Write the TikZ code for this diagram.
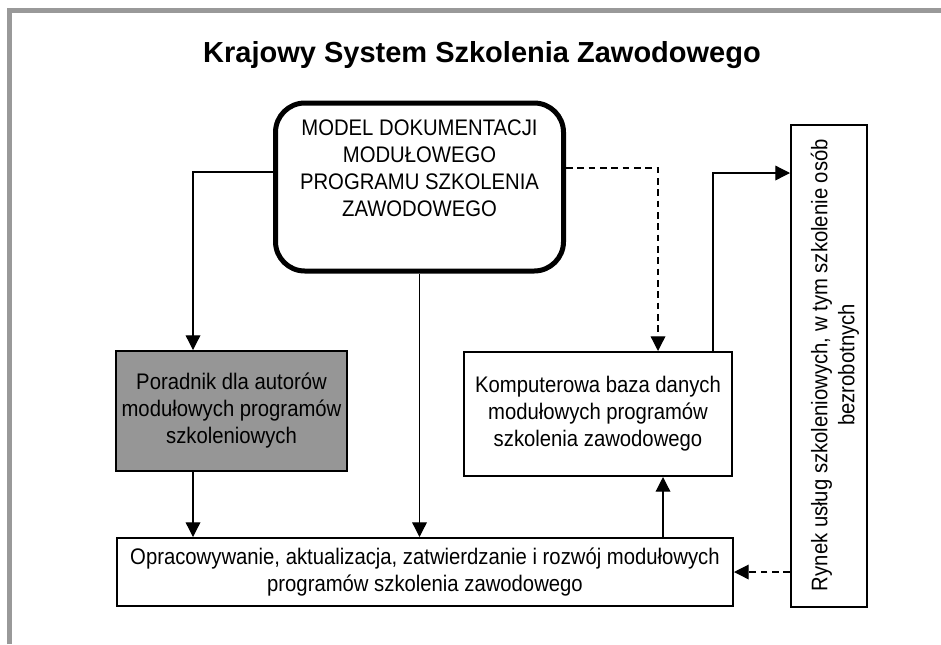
\documentclass[tikz,border=0pt]{standalone}
\usepackage{fontspec}
\setmainfont{Liberation Sans}
\newfontfamily\narrowsf{Liberation Sans}[FakeStretch=0.9]
\usetikzlibrary{calc,positioning,arrows.meta}
\definecolor{frameg}{RGB}{153,153,153}
\definecolor{fillg}{RGB}{150,150,150}
\tikzset{
  box/.style={rectangle,draw=black,line width=1.5pt,fill=white,align=center,inner sep=0pt,font={\narrowsf\fontsize{16.9}{20.25}\selectfont}},
  greybox/.style={box,fill=fillg},
  modelbox/.style={rectangle,rounded corners=22pt,draw=black,line width=3.75pt,fill=white,inner sep=0pt},
  txt/.style={align=center,inner sep=0pt,font={\narrowsf\fontsize{16.9}{20.25}\selectfont}},
  head/.style={font={\bfseries\fontsize{21.75}{26}\selectfont}},
  conn/.style={-{Triangle[length=11pt,width=11pt]},line width=0.95pt,black},
  dconn/.style={conn,dash pattern=on 5pt off 3.5pt},
}

\begin{document}
\begin{tikzpicture}[x=0.75pt,y=-0.75pt]
  \useasboundingbox (0,0) rectangle (941,644);
  \draw[frameg,line width=3.75pt] (9.5,644) -- (9.5,10.5) -- (941,10.5);
  \node[head](title) at (482,55){Krajowy System Szkolenia Zawodowego};
  % boxes
  \node[modelbox,minimum width=216pt,minimum height=126pt](model) at (419.5,187){};
  \node[txt](modeltxt) at (419.5,168){MODEL DOKUMENTACJI\\MODUŁOWEGO\\PROGRAMU SZKOLENIA\\ZAWODOWEGO};
  \node[greybox,minimum width=173.25pt,minimum height=90pt](poradnik) at (231.5,411){Poradnik dla autorów\\modułowych programów\\szkoleniowych};
  \node[box,minimum width=201pt,minimum height=93pt](baza) at (598,414){Komputerowa baza danych\\modułowych programów\\szkolenia zawodowego};
  \node[box,minimum width=462pt,minimum height=51pt](proces) at (425,572){Opracowywanie, aktualizacja, zatwierdzanie i rozwój modułowych\\programów szkolenia zawodowego};
  \node[box,rotate=90,minimum width=362pt,minimum height=57pt](rynek) at (829,366){};
  \node[txt,rotate=90](rynektxt) at (835,365){Rynek usług szkoleniowych, w tym szkolenie osób\\bezrobotnych};
  % bends
  \coordinate (lbend) at (193,172);
  \coordinate (dbend) at (658,168);
  \coordinate (rbend) at (713,173);
  \coordinate (upx) at (663,0);
  \draw[conn] (model.west |- lbend) -- (lbend) -- (poradnik.north -| lbend);
  \draw[conn] (poradnik.south -| lbend) -- (proces.north -| lbend);
  \draw[conn] (model.south) -- (proces.north -| model.south);
  \draw[dconn] (model.east |- dbend) -- (dbend) -- (baza.north -| dbend);
  \draw[conn] (baza.north -| rbend) -- (rbend) -- (rynek.north |- rbend);
  \draw[conn] (proces.north -| upx) -- (baza.south -| upx);
  \draw[dconn] (rynek.north |- proces.east) -- (proces.east);
\end{tikzpicture}
\end{document}
